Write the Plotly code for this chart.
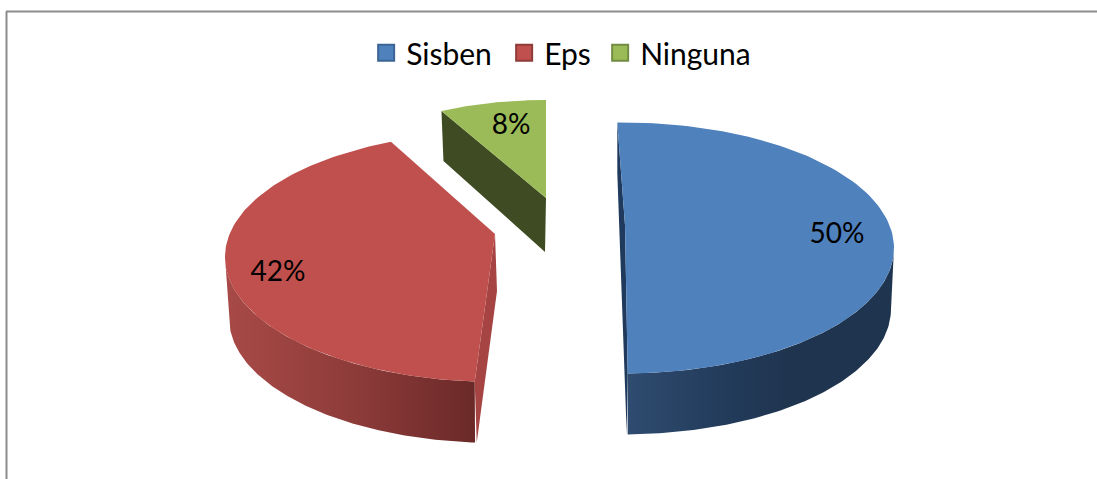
import numpy as np
import plotly.graph_objects as go

categories = ["Sisben", "Eps", "Ninguna"]
percent = [50, 42, 8]
colors = ["#4F81BD", "#C0504D", "#9BBB59"]
edge_colors = ["#3A6594", "#8E3B39", "#728C41"]

W, H = 1097, 479

# Drawing geometry of each exploded slice, in screen units of the hidden axes
start_angle = [-1.1, 184.5, 331.2]
span_adjust = [0, 1.5, 0]
centre = [(622.5, 248), (496, 257), (546, 188)]
radii = [(271.5, 125.5), (271, 125), (217, 88)]
apex = [(625, 225), (495, 234), (546, 198)]
depth = [60, 60, 54]
label_pos = [(837, 236), (278, 274), (511, 127)]
legend_entry_width = [93, 51, 107]


def rim(i, t0, t1, n=120, drop=0, shrink=0):
    t = np.radians(np.linspace(t0, t1, n))
    cx, cy = centre[i]
    rx, ry = radii[i]
    return cx + (rx - shrink) * np.sin(t), cy + drop - ry * np.cos(t)


spans = [p * 3.6 + a for p, a in zip(percent, span_adjust)]
fig = go.Figure()


def poly(x, y, color=None, grad=None):
    x = list(x) + [x[0]]
    y = list(y) + [y[0]]
    kw = dict(fillgradient=grad) if grad else dict(fillcolor=color)
    fig.add_trace(go.Scatter(x=x, y=y, mode="lines", fill="toself", line=dict(width=0, color="rgba(0,0,0,0)"),
                             hoverinfo="skip", showlegend=False, **kw))


# Outer rims
x1, y1 = rim(0, 90, start_angle[0] + spans[0])
x2, y2 = rim(0, 90, start_angle[0] + spans[0], drop=61, shrink=3)
poly(np.r_[x1, x2[::-1]], np.r_[y1, y2[::-1]],
     grad=dict(type="horizontal", start=627, stop=895,
               colorscale=[[0, "#2F4B6F"], [0.35, "#233C5C"], [0.6, "#1F344F"], [1, "#1F344F"]]))
x1, y1 = rim(1, start_angle[1], 270)
x2, y2 = rim(1, start_angle[1], 270, drop=61, shrink=4)
poly(np.r_[x1, x2[::-1]], np.r_[y1, y2[::-1]],
     grad=dict(type="horizontal", start=225, stop=476,
               colorscale=[[0, "#A84A47"], [0.5, "#8E3C3A"], [1, "#6A2928"]]))

# Cut walls
ex, ey = rim(0, start_angle[0], start_angle[0], n=1)
fx, fy = rim(0, start_angle[0] + spans[0], start_angle[0] + spans[0], n=1)
poly([ex[0], ex[0], fx[0] - 1, fx[0], apex[0][0]], [ey[0], ey[0] + 50, fy[0] + depth[0], fy[0], apex[0][1]], "#1F3A5C")
sx, sy = rim(1, start_angle[1], start_angle[1], n=1)
poly([apex[1][0], apex[1][0] + 2, sx[0] + 2, sx[0]], [apex[1][1], apex[1][1] + 57, sy[0] + depth[1] + 1, sy[0]], "#A54443")
gx, gy = rim(2, start_angle[2], start_angle[2], n=1)
poly([gx[0], apex[2][0], apex[2][0] - 1, gx[0] + 2], [gy[0], apex[2][1], apex[2][1] + depth[2], gy[0] + 50], "#3F4B22")

# Top faces
for i in range(3):
    x, y = rim(i, start_angle[i], start_angle[i] + spans[i])
    poly(np.r_[x, apex[i][0]], np.r_[y, apex[i][1]], colors[i])

# Percentage labels
fig.add_trace(go.Scatter(x=[p[0] for p in label_pos], y=[p[1] for p in label_pos],
                         text=[f"{p}%" for p in percent], mode="text",
                         textfont=dict(family="Lato", size=28, color="#000000"),
                         hoverinfo="skip", showlegend=False))

# Legend entries
for name, c, e, w in zip(categories, colors, edge_colors, legend_entry_width):
    fig.add_trace(go.Scatter(x=[None], y=[None], mode="markers", name=name, legendwidth=w,
                             marker=dict(symbol="square", size=16, color=c, line=dict(color=e, width=2))))

fig.update_layout(
    width=W, height=H, margin=dict(l=0, r=0, t=0, b=0),
    paper_bgcolor="#FFFFFF", plot_bgcolor="#FFFFFF",
    xaxis=dict(visible=False, range=[0, W], fixedrange=True),
    yaxis=dict(visible=False, range=[H, 0], fixedrange=True),
    legend=dict(orientation="h", x=0.5097, xanchor="center", y=0.944, yanchor="top",
                font=dict(family="Lato", size=30, color="#000000"),
                itemsizing="trace", bgcolor="rgba(0,0,0,0)", itemclick=False),
    shapes=[
        dict(type="line", x0=6.5, x1=6.5, y0=11.5, y1=H, line=dict(color="#8C8C8C", width=2)),
        dict(type="line", x0=6, x1=W, y0=11.5, y1=11.5, line=dict(color="#8C8C8C", width=2)),
    ],
)
fig.write_html("out.html", config=dict(displayModeBar=False),
               post_script="document.body.style.margin='0';document.body.style.overflow='hidden';")
